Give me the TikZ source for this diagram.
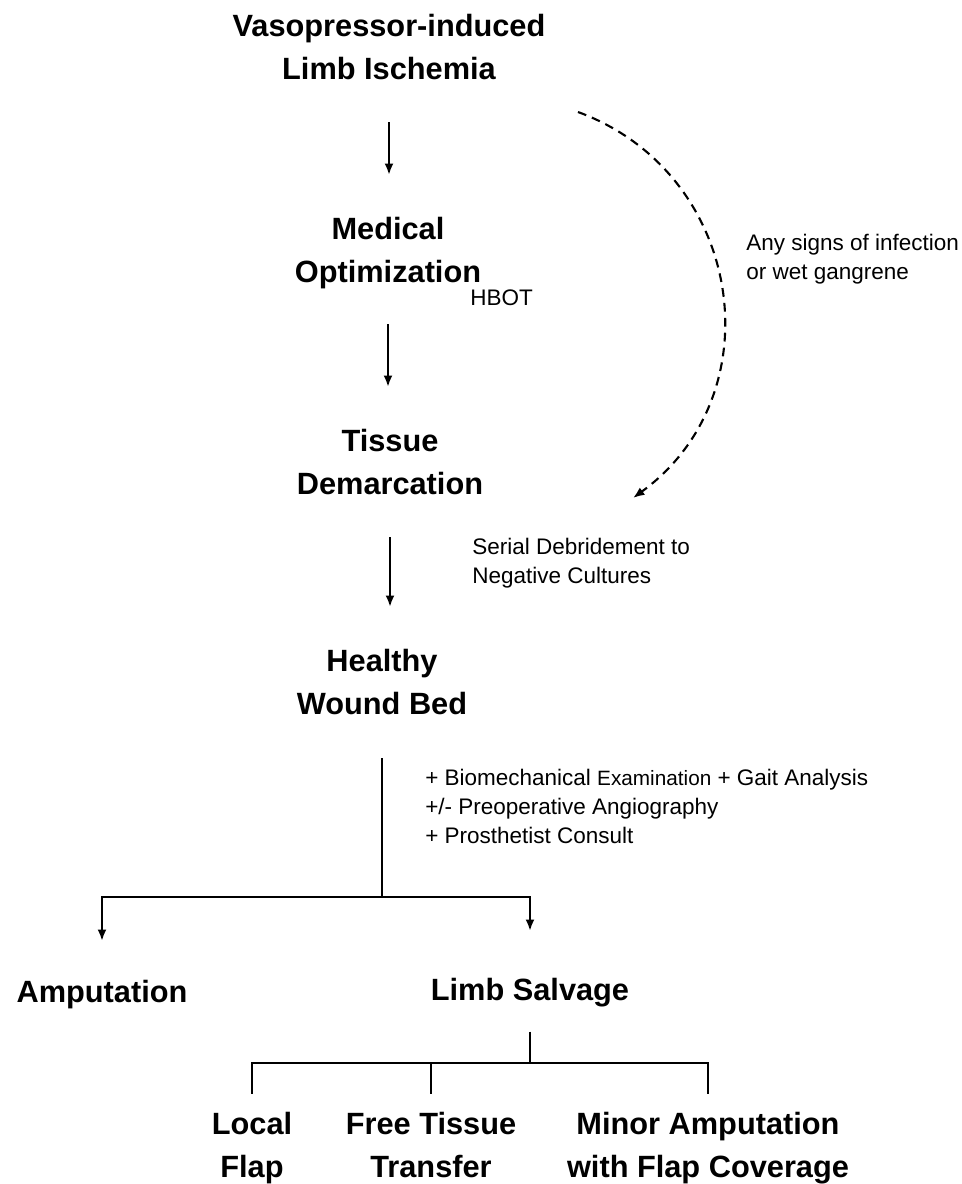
\documentclass[tikz,border=0pt]{standalone}
\usepackage{fontspec}
\setmainfont{Liberation Sans}
\usetikzlibrary{arrows.meta,positioning}

\tikzset{
    stage/.style={font=\bfseries\fontsize{17.5}{24.5}\selectfont, align=center, inner sep=0pt, anchor=north},
    note/.style={font=\fontsize{12.8}{16.5}\selectfont, align=left, inner sep=0pt, anchor=west},
    flow/.style={-{Latex[length=2.3mm,width=1.8mm]}, line width=1.4pt, shorten <=0.84cm, shorten >=0.84cm},
    branch/.style={line width=1.4pt},
    detour/.style={-{Latex[length=2.3mm,width=1.8mm]}, line width=1.2pt, dash pattern=on 5pt off 3.5pt}
}

\begin{document}
\begin{tikzpicture}[x=0.02cm, y=-0.02cm]
    \useasboundingbox (0,0) rectangle (962,1184);

    % Main stages
    \node[stage] (vaso) at (389,14) {Vasopressor-induced\\Limb Ischemia};
    \node[stage] (med) at (388,217) {Medical\\Optimization};
    \node[stage] (tis) at (390,429) {Tissue\\Demarcation};
    \node[stage] (hwb) at (382,649) {Healthy\\Wound Bed};

    % Outcomes
    \node[stage] (amp) at (102,980) {Amputation};
    \node[stage] (ls) at (530,978) {Limb Salvage};
    \node[stage] (loc) at (252,1112) {Local\\Flap};
    \node[stage] (fre) at (431,1112) {Free Tissue\\Transfer};
    \node[stage] (min) at (708,1112) {Minor Amputation\\with Flap Coverage};

    % Side notes
    \node[note] (hbot) at (470,298) {HBOT};
    \node[note] (deb) at (472,563) {Serial Debridement to\\Negative Cultures};
    \node[note] (inf) at (746,259) {Any signs of infection\\or wet gangrene};
    \node[note] (eval) at (425,806) {+ Biomechanical {\fontsize{11.8}{16.5}\selectfont Examination} + Gait Analysis\\+/- Preoperative Angiography\\+ Prosthetist Consult};

    % Straight arrows down the pathway
    \draw[flow] (vaso.south) -- (vaso.south |- med.north);
    \draw[flow, shorten <=0.7cm] (med.south) -- (med.south |- tis.north);
    \draw[flow] (tis.south) -- (tis.south |- hwb.north);

    % Infection shortcut
    \coordinate (infstart) at (578,112);
    \coordinate (infend) at (633,498);
    \draw[detour] (infstart) .. controls (744,173) and (776,394) .. (infend);

    % Split into amputation / limb salvage
    \coordinate (split) at (382,897);
    \draw[branch, shorten <=0.86cm] (hwb.south) -- (hwb.south |- split);
    \draw[flow, shorten <=0pt, shorten >=0.78cm] (hwb.south |- split) -| (amp.north);
    \draw[flow, shorten <=0pt, shorten >=0.94cm] (hwb.south |- split) -| (ls.north);

    % Limb salvage options
    \coordinate (bar) at (530,1063);
    \draw[branch, shorten <=0.48cm] (ls.south) -- (ls.south |- bar);
    \draw[branch, shorten >=0.36cm] (ls.south |- bar) -| (loc.north);
    \draw[branch, shorten >=0.36cm] (ls.south |- bar) -| (fre.north);
    \draw[branch, shorten >=0.36cm] (ls.south |- bar) -| (min.north);
\end{tikzpicture}
\end{document}
